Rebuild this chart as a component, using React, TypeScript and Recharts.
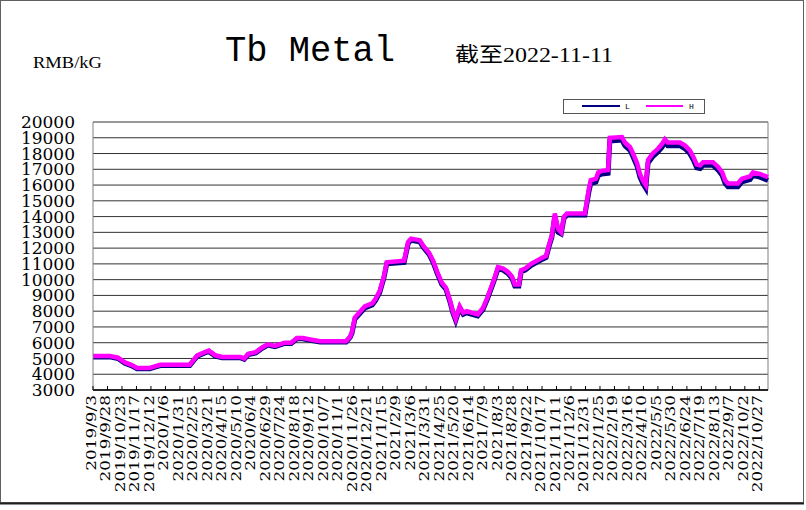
import { LineChart, Line, XAxis, YAxis, CartesianGrid, ReferenceLine } from "recharts";

// price points (RMB/kG)
const dates = [
  "2019/9/3", "2019/10/2", "2019/10/16", "2019/10/28", "2019/11/8", "2019/11/18", "2019/12/10", "2019/12/19",
  "2019/12/28", "2020/2/17", "2020/3/1", "2020/3/14", "2020/3/21", "2020/4/1", "2020/4/13", "2020/5/14",
  "2020/5/21", "2020/5/28", "2020/6/10", "2020/6/21", "2020/7/1", "2020/7/13", "2020/7/30", "2020/8/10",
  "2020/8/20", "2020/8/30", "2020/9/12", "2020/9/29", "2020/11/13", "2020/11/20", "2020/11/23", "2020/11/28",
  "2020/12/3", "2020/12/15", "2020/12/28", "2021/1/3", "2021/1/10", "2021/1/17", "2021/1/22", "2021/2/21",
  "2021/2/28", "2021/3/5", "2021/3/20", "2021/3/27", "2021/4/5", "2021/4/12", "2021/4/19", "2021/4/27",
  "2021/5/4", "2021/5/11", "2021/5/16", "2021/5/21", "2021/5/28", "2021/6/3", "2021/6/9", "2021/6/18",
  "2021/6/28", "2021/7/7", "2021/7/14", "2021/7/21", "2021/7/26", "2021/8/2", "2021/8/11", "2021/8/19",
  "2021/8/26", "2021/8/31", "2021/9/7", "2021/9/11", "2021/9/18", "2021/9/28", "2021/10/8", "2021/10/18",
  "2021/10/24", "2021/10/29", "2021/11/3", "2021/11/8", "2021/11/14", "2021/11/19", "2021/11/24", "2021/11/29",
  "2021/12/30", "2022/1/6", "2022/1/9", "2022/1/18", "2022/1/22", "2022/1/28", "2022/2/8", "2022/2/11",
  "2022/3/4", "2022/3/9", "2022/3/18", "2022/3/23", "2022/3/30", "2022/4/4", "2022/4/9", "2022/4/14",
  "2022/4/18", "2022/4/26", "2022/5/5", "2022/5/12", "2022/5/17", "2022/5/22", "2022/6/12", "2022/6/21",
  "2022/6/29", "2022/7/5", "2022/7/11", "2022/7/17", "2022/7/22", "2022/8/8", "2022/8/17", "2022/8/24",
  "2022/8/29", "2022/9/3", "2022/9/20", "2022/9/27", "2022/10/11", "2022/10/16", "2022/10/28", "2022/11/11",
];

const highPrices = [
  5150, 5150, 5050, 4750, 4600, 4400, 4400, 4500,
  4600, 4600, 5200, 5400, 5500, 5200, 5100, 5100,
  5000, 5300, 5400, 5700, 5900, 5800, 6000, 6000,
  6300, 6300, 6200, 6100, 6100, 6400, 6700, 7600,
  7800, 8300, 8500, 8800, 9300, 10200, 11100, 11200,
  12400, 12600, 12500, 12100, 11700, 11200, 10500, 9800,
  9500, 8700, 8000, 7500, 8300, 7900, 8000, 7900,
  7800, 8200, 8800, 9500, 10000, 10800, 10700, 10500,
  10200, 9700, 9700, 10600, 10700, 11000, 11200, 11400,
  11500, 12200, 12800, 14200, 13200, 13000, 14000, 14200,
  14200, 15800, 16300, 16400, 16800, 16900, 16950, 19000,
  19050, 18700, 18400, 18000, 17400, 16700, 16300, 16000,
  17600, 18000, 18300, 18600, 18900, 18700, 18700, 18500,
  18200, 17800, 17300, 17250, 17450, 17450, 17150, 16800,
  16300, 16100, 16100, 16400, 16550, 16800, 16700, 16500,
];

const lowPrices = [
  5100, 5100, 5000, 4700, 4550, 4350, 4350, 4450,
  4550, 4550, 5150, 5350, 5450, 5150, 5050, 5050,
  4950, 5250, 5350, 5650, 5850, 5750, 5950, 5950,
  6250, 6250, 6150, 6050, 6050, 6350, 6600, 7500,
  7700, 8200, 8400, 8700, 9200, 10100, 11000, 11100,
  12300, 12500, 12400, 12000, 11600, 11100, 10400, 9700,
  9400, 8600, 7900, 7400, 8200, 7800, 7900, 7800,
  7700, 8100, 8700, 9400, 9900, 10700, 10600, 10400,
  10100, 9600, 9600, 10500, 10600, 10900, 11100, 11300,
  11400, 12100, 12700, 14000, 13000, 12900, 13900, 14100,
  14100, 15600, 16100, 16200, 16600, 16700, 16750, 18800,
  18850, 18500, 18200, 17800, 17200, 16500, 16100, 15800,
  17400, 17800, 18100, 18400, 18700, 18500, 18500, 18300,
  18000, 17600, 17100, 17050, 17250, 17250, 16950, 16600,
  16100, 15900, 15900, 16200, 16350, 16600, 16500, 16300,
];

const xTickLabels = [
  "2019/9/3", "2019/9/28", "2019/10/23", "2019/11/17", "2019/12/12", "2020/1/6", "2020/1/31", "2020/2/25",
  "2020/3/21", "2020/4/15", "2020/5/10", "2020/6/4", "2020/6/29", "2020/7/24", "2020/8/18", "2020/9/12",
  "2020/10/7", "2020/11/1", "2020/11/26", "2020/12/21", "2021/1/15", "2021/2/9", "2021/3/6", "2021/3/31",
  "2021/4/25", "2021/5/20", "2021/6/14", "2021/7/9", "2021/8/3", "2021/8/28", "2021/9/22", "2021/10/17",
  "2021/11/11", "2021/12/6", "2021/12/31", "2022/1/25", "2022/2/19", "2022/3/16", "2022/4/10", "2022/5/5",
  "2022/5/30", "2022/6/24", "2022/7/19", "2022/8/13", "2022/9/7", "2022/10/2", "2022/10/27",
];

const yTicks = [3000, 4000, 5000, 6000, 7000, 8000, 9000, 10000, 11000, 12000, 13000, 14000, 15000, 16000, 17000, 18000, 19000, 20000];

const DAY = 86400000;
function toDay(s: string) {
  const [y, m, d] = s.split("/").map(Number);
  return Date.UTC(y, m - 1, d) / DAY;
}
const origin = toDay(dates[0]);
const dayOf = (s: string) => toDay(s) - origin;

const data = dates.map((d, i) => ({ t: dayOf(d), L: lowPrices[i], H: highPrices[i] }));
const tickDays = xTickLabels.map(dayOf);
const labelByDay = new Map(xTickLabels.map((l) => [dayOf(l), l]));
const lastDay = dayOf(dates[dates.length - 1]);

const serif = "'DejaVu Serif', 'Liberation Serif', serif";

function DateTick({ x, y, payload }: { x?: number; y?: number; payload?: { value: number } }) {
  const label = labelByDay.get(payload?.value ?? -1) ?? "";
  return (
    <g>
      <line x1={x} y1={y} x2={x} y2={(y ?? 0) - 4} stroke="#000" />
      <text
        transform={`translate(${(x ?? 0) + 3},${(y ?? 0) + 5}) rotate(-90) scale(1.35,1)`}
        textAnchor="end"
        fontSize={12.5}
        fontFamily={serif}
        fill="#000"
      >
        {label}
      </text>
    </g>
  );
}

export default function App() {
  return (
    <div style={{ position: "absolute", left: 0, top: 0, width: 806, height: 510, background: "#fff" }}>
      <LineChart width={806} height={510} data={data} margin={{ top: 122, right: 38, bottom: 0, left: 0 }}>
        <CartesianGrid horizontal vertical={false} stroke="#333" strokeWidth={1} />
        <XAxis
          dataKey="t"
          type="number"
          domain={[0, lastDay]}
          ticks={tickDays}
          interval={0}
          height={120}
          tickSize={0}
          tickMargin={0}
          tickLine={false}
          axisLine={{ stroke: "#000", strokeWidth: 1.5 }}
          tick={<DateTick />}
        />
        <YAxis
          type="number"
          domain={[3000, 20000]}
          ticks={yTicks}
          interval={0}
          width={93}
          tickSize={0}
          tickMargin={18}
          tickLine={false}
          axisLine={{ stroke: "#808080" }}
          tick={{ fontSize: 17, fontFamily: serif, fill: "#000" }}
        />
        <ReferenceLine x={lastDay} stroke="#808080" />
        <Line type="linear" dataKey="L" stroke="#000080" strokeWidth={5} dot={false} isAnimationActive={false} />
        <Line type="linear" dataKey="H" stroke="#ff00ff" strokeWidth={4.5} dot={false} isAnimationActive={false} />
      </LineChart>

      <svg width={806} height={510} style={{ position: "absolute", left: 0, top: 0, pointerEvents: "none" }}>
        <rect x={0.5} y={0.5} width={803} height={502} fill="none" stroke="#606060" />
        <line x1={0} y1={503.5} x2={804} y2={503.5} stroke="#202020" strokeWidth={2} />
        <text x={33} y={68} fontSize={17} fontFamily="'Liberation Serif', serif" textLength={69} lengthAdjust="spacingAndGlyphs">
          RMB/kG
        </text>
        <text x={225} y={61} fontSize={36} fontFamily="'Liberation Mono', monospace" textLength={170} lengthAdjust="spacingAndGlyphs">
          Tb Metal
        </text>
        <text x={455} y={62} fontSize={20} fontFamily="'Liberation Serif', 'Noto Sans CJK SC', serif" textLength={158} lengthAdjust="spacingAndGlyphs">
          截至2022-11-11
        </text>
        <rect x={563.5} y={99.5} width={141} height={14} fill="#fff" stroke="#555" />
        <line x1={582} y1={106} x2={620} y2={106} stroke="#000080" strokeWidth={2} />
        <text x={625} y={109} fontSize={8} fontFamily="'Liberation Mono', monospace">L</text>
        <line x1={646} y1={106} x2={683} y2={106} stroke="#ff00ff" strokeWidth={2} />
        <text x={689} y={109} fontSize={8} fontFamily="'Liberation Mono', monospace">H</text>
      </svg>
    </div>
  );
}
